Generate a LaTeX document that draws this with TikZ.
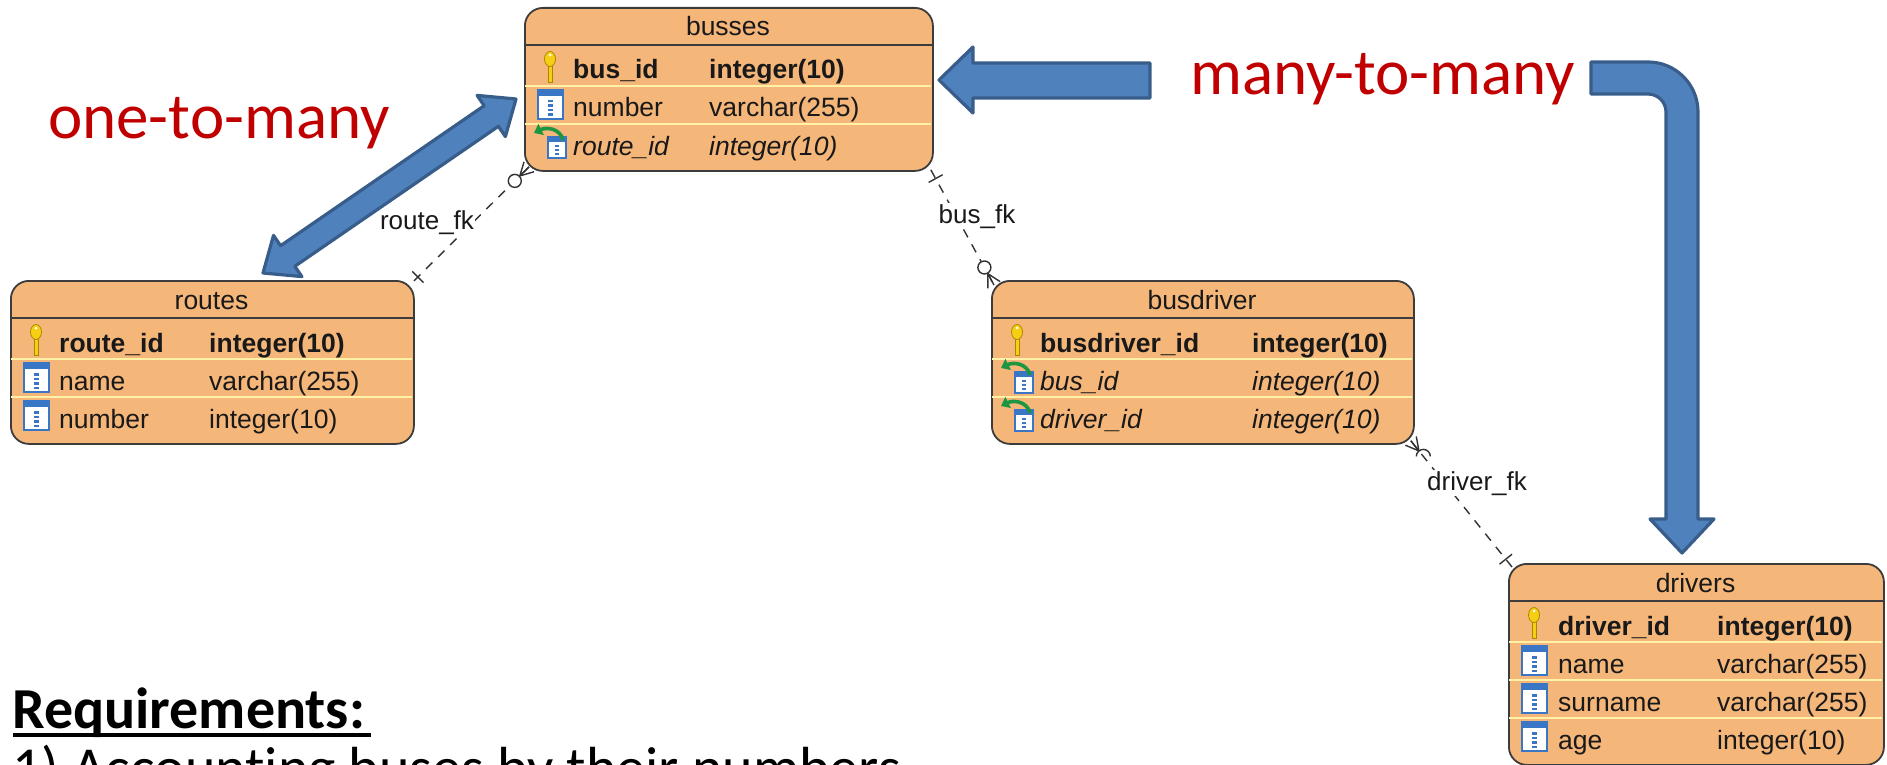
\documentclass[tikz,border=0pt]{standalone}
\usepackage{fontspec}
\newfontfamily\vpfont{Liberation Sans}
\newfontfamily\slidefont[Ligatures=NoCommon]{Carlito}
\usetikzlibrary{calc,arrows.meta}

\definecolor{tblfill}{RGB}{245,182,122}
\definecolor{tbledge}{RGB}{60,60,60}
\definecolor{rowyellow}{RGB}{255,241,165}
\definecolor{txtdark}{RGB}{25,25,25}
\definecolor{lineclr}{RGB}{50,50,50}
\definecolor{arrowfill}{RGB}{79,129,189}
\definecolor{arrowedge}{RGB}{56,93,138}
\definecolor{notered}{RGB}{192,0,0}
\definecolor{keyyellow}{RGB}{246,206,20}
\definecolor{keyedge}{RGB}{170,135,0}
\definecolor{colblue}{RGB}{58,118,198}
\definecolor{fkgreen}{RGB}{28,150,64}

\tikzset{
  tbl/.style={draw=tbledge, fill=tblfill, line width=1.8pt, rounded corners=18pt, inner sep=0pt, anchor=north west},
  tbltitle/.style={font=\vpfont\fontsize{26.5}{30}\selectfont, text=txtdark, inner sep=0pt, anchor=base},
  tblcol/.style={font=\vpfont\fontsize{26.5}{30}\selectfont, text=txtdark, inner sep=0pt, anchor=base west},
  tblpk/.style={tblcol, font=\vpfont\bfseries\fontsize{26.5}{30}\selectfont},
  tblfk/.style={tblcol, font=\vpfont\itshape\fontsize{26.5}{30}\selectfont},
  hdrline/.style={draw=tbledge, line width=1.5pt},
  rowsep/.style={draw=rowyellow, line width=1.8pt},
  fkline/.style={draw=lineclr, line width=1.4pt, dash pattern=on 9pt off 8pt},
  fkmark/.style={draw=lineclr, line width=1.4pt},
  fklabel/.style={font=\vpfont\fontsize{26}{30}\selectfont, text=txtdark, fill=white, inner sep=1pt, anchor=base},
  blockarrow/.style={fill=arrowfill, draw=arrowedge, line width=3.2pt, line join=round},
  relnote/.style={font=\slidefont\fontsize{65}{78}\selectfont, text=notered, inner sep=0pt, anchor=base west},
  reqtitle/.style={font=\slidefont\bfseries\fontsize{58}{70}\selectfont, inner sep=0pt, anchor=base west},
  reqtext/.style={font=\slidefont\fontsize{58}{70}\selectfont, inner sep=0pt, anchor=base west}
}

% icons: #1 = table left, #2 = row top
\newcommand{\keyicon}[2]{%
  \draw[keyedge, fill=keyyellow, line width=0.8pt] ({#1+24},{#2+18}) rectangle ({#1+28},{#2+37});
  \draw[keyedge, fill=keyyellow, line width=0.8pt] ({#1+26},{#2+14}) ellipse (5.5 and 7.5);
  \fill[white] ({#1+26},{#2+10}) circle (1.5);
}
\newcommand{\colicon}[2]{%
  \draw[colblue, fill=white, line width=1.2pt] ({#1+14},{#2+4}) rectangle ({#1+39},{#2+33});
  \fill[colblue] ({#1+14},{#2+4}) rectangle ({#1+39},{#2+10});
  \foreach \k in {0,...,3}
    \fill[colblue] ({#1+24},{#2+14+4.5*\k}) rectangle ({#1+29},{#2+16.5+4.5*\k});
}
\newcommand{\fkicon}[2]{%
  \draw[colblue, fill=white, line width=1.2pt] ({#1+24},{#2+13}) rectangle ({#1+42},{#2+34});
  \fill[colblue] ({#1+24},{#2+13}) rectangle ({#1+42},{#2+18});
  \foreach \k in {0,1,2}
    \fill[colblue] ({#1+31},{#2+21+4*\k}) rectangle ({#1+35},{#2+23+4*\k});
  \draw[fkgreen, line width=3.6pt, -{Triangle[length=8pt,width=12pt]}] ({#1+39},{#2+16}) .. controls ({#1+36},{#2+4}) and ({#1+22},{#2+3}) .. ({#1+10},{#2+9});
}
% connector ends: #1 = entity end, #2 = other end
\newcommand{\crowfoot}[2]{%
  \draw[fkmark] ($(#1)!13pt!(#2)$) -- (#1)
    ($(#1)!13pt!(#2)$) -- ($(#1)!7pt!90:(#2)$)
    ($(#1)!13pt!(#2)$) -- ($(#1)!7pt!-90:(#2)$);
}
\newcommand{\zerocirc}[2]{\draw[fkmark, fill=white] ($(#1)!20pt!(#2)$) circle (6.5);}
\newcommand{\onebar}[2]{\draw[fkmark] ($(#1)!10pt!(#2)!8pt!90:(#2)$) -- ($(#1)!10pt!(#2)!8pt!-90:(#2)$);}

\begin{document}
\begin{tikzpicture}[x=1pt,y=1pt,yscale=-1,xscale=1]
\useasboundingbox (0,0) rectangle (1887,765); %diagram has the size of the slide crop

%Table: busses
\node[tbl, minimum width=408pt, minimum height=163pt] (busses) at (524,7) {};
\draw[hdrline] (524,45) -- (932,45);
\draw[rowsep] (525,86) -- (931,86);
\draw[rowsep] (525,124) -- (931,124);
\keyicon{524}{45}
\colicon{524}{86}
\fkicon{524}{124}
\node[tbltitle] (busses_t) at (728,36) {busses};
\node[tblpk] (bus_id) at (573,79) {bus\_id};
\node[tblpk] (bus_id_t) at (709,79) {integer(10)};
\node[tblcol] (bus_num) at (573,117) {number};
\node[tblcol] (bus_num_t) at (709,117) {varchar(255)};
\node[tblfk] (bus_route) at (573,155) {route\_id};
\node[tblfk] (bus_route_t) at (709,155) {integer(10)};

%Table: routes
\node[tbl, minimum width=403pt, minimum height=163pt] (routes) at (10,280) {};
\draw[hdrline] (10,318) -- (413,318);
\draw[rowsep] (11,359) -- (412,359);
\draw[rowsep] (11,397) -- (412,397);
\keyicon{10}{318}
\colicon{10}{359}
\colicon{10}{397}
\node[tbltitle] (routes_t) at (211.5,309) {routes};
\node[tblpk] (route_id) at (59,352) {route\_id};
\node[tblpk] (route_id_t) at (209,352) {integer(10)};
\node[tblcol] (route_name) at (59,390) {name};
\node[tblcol] (route_name_t) at (209,390) {varchar(255)};
\node[tblcol] (route_num) at (59,428) {number};
\node[tblcol] (route_num_t) at (209,428) {integer(10)};

%Table: busdriver
\node[tbl, minimum width=422pt, minimum height=163pt] (busdriver) at (991,280) {};
\draw[hdrline] (991,318) -- (1413,318);
\draw[rowsep] (992,359) -- (1412,359);
\draw[rowsep] (992,397) -- (1412,397);
\keyicon{991}{318}
\fkicon{991}{359}
\fkicon{991}{397}
\node[tbltitle] (busdriver_t) at (1202,309) {busdriver};
\node[tblpk] (bd_id) at (1040,352) {busdriver\_id};
\node[tblpk] (bd_id_t) at (1252,352) {integer(10)};
\node[tblfk] (bd_bus) at (1040,390) {bus\_id};
\node[tblfk] (bd_bus_t) at (1252,390) {integer(10)};
\node[tblfk] (bd_driver) at (1040,428) {driver\_id};
\node[tblfk] (bd_driver_t) at (1252,428) {integer(10)};

%Table: drivers
\node[tbl, minimum width=375pt, minimum height=201pt] (drivers) at (1508,563) {};
\draw[hdrline] (1508,601) -- (1883,601);
\draw[rowsep] (1509,642) -- (1882,642);
\draw[rowsep] (1509,680) -- (1882,680);
\draw[rowsep] (1509,718) -- (1882,718);
\keyicon{1508}{601}
\colicon{1508}{642}
\colicon{1508}{680}
\colicon{1508}{718}
\node[tbltitle] (drivers_t) at (1695.5,592) {drivers};
\node[tblpk] (drv_id) at (1558,635) {driver\_id};
\node[tblpk] (drv_id_t) at (1717,635) {integer(10)};
\node[tblcol] (drv_name) at (1558,673) {name};
\node[tblcol] (drv_name_t) at (1717,673) {varchar(255)};
\node[tblcol] (drv_surname) at (1558,711) {surname};
\node[tblcol] (drv_surname_t) at (1717,711) {varchar(255)};
\node[tblcol] (drv_age) at (1558,749) {age};
\node[tblcol] (drv_age_t) at (1717,749) {integer(10)};

%Connector: route_fk
\coordinate (rf1) at ($(busses.south west)+(5,-5)$);
\coordinate (rf2) at ($(routes.north east)+(-4,4)$);
\draw[fkline] ($(busses.south west)+(5,-5)$) -- ($(routes.north east)+(-4,4)$);
\crowfoot{rf1}{rf2}
\zerocirc{rf1}{rf2}
\onebar{rf2}{rf1}
%Connector: bus_fk
\coordinate (bf1) at ($(busses.south east)+(-3,-2)$);
\coordinate (bf2) at ($(busdriver.north west)+(3,5)$);
\draw[fkline] ($(busses.south east)+(-3,-2)$) -- ($(busdriver.north west)+(3,5)$);
\onebar{bf1}{bf2}
\crowfoot{bf2}{bf1}
\zerocirc{bf2}{bf1}
%Connector: driver_fk
\coordinate (df1) at ($(busdriver.south east)+(-4,-4)$);
\coordinate (df2) at ($(drivers.north west)+(4,4)$);
\draw[fkline] ($(busdriver.south east)+(-4,-4)$) -- ($(drivers.north west)+(4,4)$);
\crowfoot{df1}{df2}
\draw[fkmark] ($(df1)!20pt!(df2)+(-7,0)$) arc (180:360:7);
\onebar{df2}{df1}

% Text Node
\node[fklabel] (route_fk) at (427,229) {route\_fk};
% Text Node
\node[fklabel] (bus_fk) at (977,223) {bus\_fk};
% Text Node
\node[fklabel] (driver_fk) at (1477,490) {driver\_fk};

%Shape: Left-Right Arrow
\draw[blockarrow] (263,273) -- (301.9,276.6) -- (294.8,266.3) -- (498.4,126.3) -- (505.4,136.6) -- (516,99) -- (477.1,95.4) -- (484.2,105.7) -- (280.6,245.7) -- (273.5,235.4) -- cycle;
%Shape: Left Arrow
\draw[blockarrow] (939,80) -- (973,47) -- (973,63) -- (1150,63) -- (1150,98) -- (973,98) -- (973,113) -- cycle;
%Shape: Bent Arrow
\draw[blockarrow] (1591,62) -- (1648,62) .. controls (1675.6,62) and (1698,84.4) .. (1698,112) -- (1698,519) -- (1714,519) -- (1682,553) -- (1650,519) -- (1666,519) -- (1666,112) .. controls (1666,102.1) and (1657.9,94) .. (1648,94) -- (1591,94) -- cycle;

% Text Node
\node[relnote] (one_many) at (48,139) {one-to-many};
% Text Node
\node[relnote] (many_many) at (1190,95) {many-to-many};

% Text Node
\node[reqtitle] (req) at (12,728) {Requirements:};
\draw[line width=4pt] (13,735) -- (371,735);
% Text Node
\node[reqtext] (req_1) at (12,787) {1) Accounting buses by their numbers};

\end{tikzpicture}
\end{document}
